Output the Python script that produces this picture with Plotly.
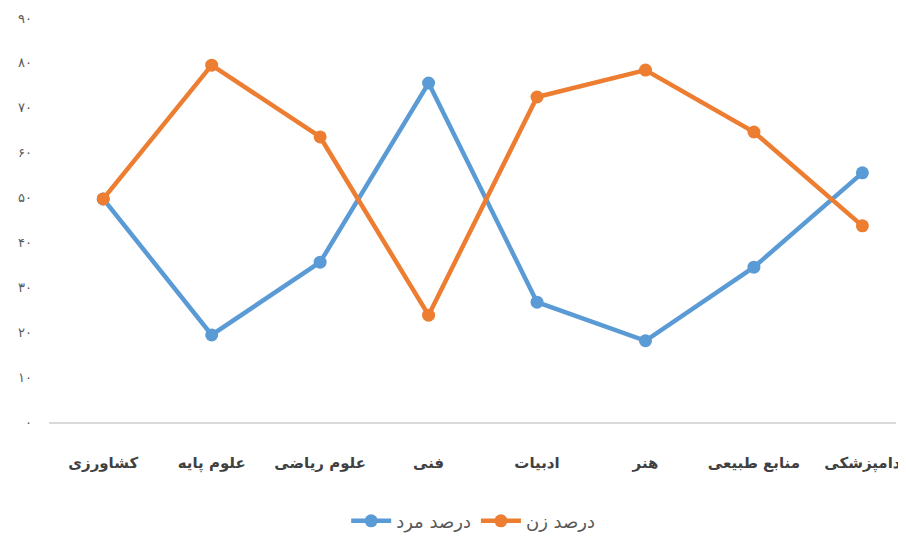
import plotly.graph_objects as go

categories = ["کشاورزی", "علوم پایه", "علوم ریاضی", "فنی", "ادبیات", "هنر", "منابع طبیعی", "دامپزشکی"]
male_pct = [49.7, 19.4, 35.6, 75.5, 26.7, 18.1, 34.5, 55.5]
female_pct = [49.7, 79.5, 63.5, 23.8, 72.4, 78.4, 64.6, 43.7]
y_tick_vals = [0, 10, 20, 30, 40, 50, 60, 70, 80, 90]
y_tick_text = ["۰", "۱۰", "۲۰", "۳۰", "۴۰", "۵۰", "۶۰", "۷۰", "۸۰", "۹۰"]

x_idx = list(range(len(categories)))

fig = go.Figure()
fig.add_trace(go.Scatter(
    x=x_idx, y=male_pct, name="درصد مرد", mode="lines+markers",
    line=dict(color="#5B9BD5", width=4.5),
    marker=dict(color="#5B9BD5", size=13),
))
fig.add_trace(go.Scatter(
    x=x_idx, y=female_pct, name="درصد زن", mode="lines+markers",
    line=dict(color="#ED7D31", width=4.5),
    marker=dict(color="#ED7D31", size=13),
))

fig.update_layout(
    width=898, height=529,
    margin=dict(l=41, r=10, t=10, b=115, autoexpand=False),
    paper_bgcolor="white", plot_bgcolor="white",
    font=dict(family="DejaVu Sans", color="#595959"),
    showlegend=True,
    legend=dict(
        orientation="h", xref="container", yref="container",
        x=0.518, xanchor="center", y=0.03, yanchor="middle",
        font=dict(size=18, color="#595959", family="DejaVu Sans"),
        itemwidth=40,
    ),
    xaxis=dict(
        range=[-0.5, 7.31], tickmode="array", tickvals=x_idx, ticktext=categories,
        showgrid=False, zeroline=False, showline=True, linecolor="#D9D9D9", linewidth=1.5,
        ticks="", ticklabelstandoff=26, automargin=False,
        ticklabeloverflow="allow",
        tickfont=dict(family="DejaVu Sans", size=15, color="#404040", weight="bold"),
    ),
    yaxis=dict(
        range=[0, 90], tickmode="array", tickvals=y_tick_vals, ticktext=y_tick_text,
        showgrid=False, zeroline=False, showline=False, ticks="",
        ticklabelstandoff=16, automargin=False,
        tickfont=dict(family="DejaVu Sans", size=13, color="#595959"),
    ),
)

fig.write_html("out.html")
